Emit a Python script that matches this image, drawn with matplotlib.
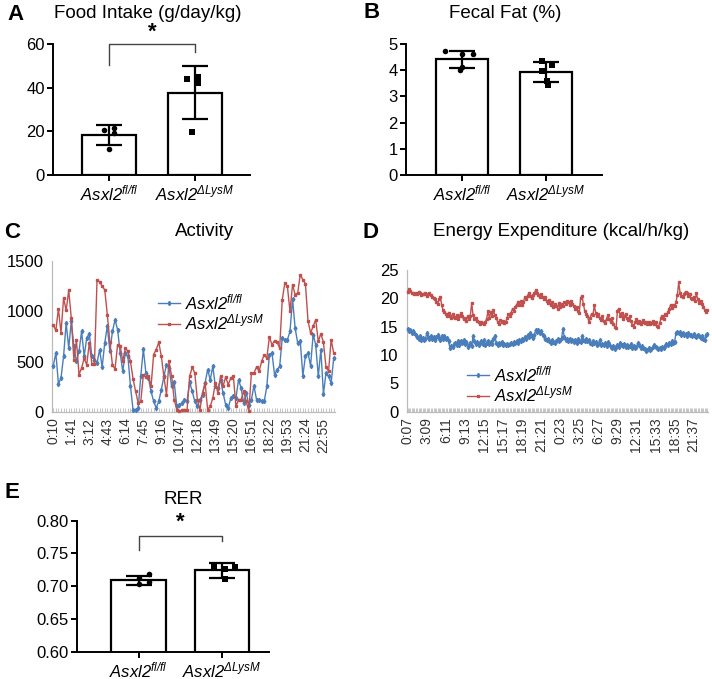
import matplotlib
matplotlib.use("Agg")
import matplotlib.pyplot as plt
import numpy as np

plt.rcParams['font.family'] = ['Liberation Sans', 'DejaVu Sans']
plt.rcParams['mathtext.fontset'] = 'custom'
plt.rcParams['mathtext.rm'] = 'Liberation Sans:italic'
plt.rcParams['mathtext.it'] = 'Liberation Sans:italic'
plt.rcParams['mathtext.bf'] = 'Liberation Sans:bold'

# ---------------- data ----------------
groups = [r'$Asxl2^{fl/fl}$', r'$Asxl2^{\Delta LysM}$']

food_mean = [18.3, 37.7]
food_sd = [4.4, 12.0]
food_fl = [20.7, 21.7, 19.1, 12.1]
food_lysm = [44.1, 44.7, 42.1, 19.9]

fat_mean = [4.41, 3.93]
fat_sd = [0.31, 0.39]
fat_fl = [4.74, 4.60, 4.63, 4.02, 4.12]
fat_lysm = [4.37, 4.20, 3.98, 3.60, 3.42]

rer_mean = [0.709, 0.724]
rer_sd = [0.0065, 0.011]
rer_fl = [0.712, 0.718, 0.704, 0.707]
rer_lysm = [0.731, 0.727, 0.729, 0.711]

activity_labels = ['0:10', '1:41', '3:12', '4:43', '6:14', '7:45', '9:16', '10:47',
                   '12:18', '13:49', '15:20', '16:51', '18:22', '19:53', '21:24', '22:55']
activity_fl = [460, 586, 281, 338, 553, 884, 636, 901, 652, 503,
               603, 801, 553, 735, 778, 553, 520, 487, 619, 447,
               685, 851, 603, 801, 917, 818, 586, 404, 586, 553,
               255, 23, 23, 40, 354, 626, 387, 338, 205, 106,
               40, 106, 222, 354, 470, 437, 255, 295, 56, 73,
               89, 123, 106, 295, 205, 106, 56, 123, 172, 288,
               420, 321, 454, 255, 238, 321, 189, 73, 40, 139,
               156, 139, 321, 238, 89, 189, 73, 123, 262, 123,
               123, 106, 106, 255, 570, 586, 371, 420, 454, 735,
               718, 718, 801, 1123, 834, 685, 702, 361, 553, 586,
               460, 768, 669, 354, 619, 179, 387, 354, 288, 536]
activity_lysm = [861, 811, 1026, 785, 1132, 1010, 1208, 934, 520, 712,
                 371, 437, 533, 470, 685, 480, 477, 1308, 1295, 1248,
                 1215, 967, 692, 467, 427, 669, 659, 503, 636, 603,
                 503, 331, 205, 89, 106, 364, 348, 361, 255, 570,
                 619, 692, 553, 348, 172, 503, 354, 123, 23, 7,
                 17, 23, 23, 354, 444, 387, 123, 23, 189, 288,
                 23, 56, 139, 288, 189, 354, 255, 348, 272, 338,
                 354, 56, 123, 123, 205, 106, 7, 387, 387, 447,
                 404, 503, 570, 536, 745, 669, 709, 692, 636, 1116,
                 1281, 1248, 1000, 1265, 1166, 1182, 1364, 1315, 1275, 907,
                 785, 851, 917, 702, 778, 692, 447, 404, 718, 586]

ee_labels = ['0:07', '3:09', '6:11', '9:13', '12:15', '15:17', '18:19', '21:21',
             '0:23', '3:25', '6:27', '9:29', '12:31', '15:33', '18:35', '21:37']
ee_fl = [14.6, 14.2, 14.4, 13.9, 14.3, 13.8, 13.5, 13.1, 12.9, 13.3, 12.7, 13.0, 12.6, 12.9,
         13.8, 13.2, 12.9, 13.4, 12.8, 13.1, 12.7, 13.2, 13.5, 13.0, 12.6, 13.3, 12.9, 13.4,
         12.8, 13.0, 12.4, 11.3, 11.6, 11.4, 11.9, 12.2, 11.7, 12.4, 11.8, 12.5, 12.1, 12.6,
         11.9, 12.3, 11.5, 11.8, 12.2, 11.6, 13.3, 12.5, 11.9, 12.3, 11.8, 12.1, 12.4, 12.0,
         12.6, 11.8, 12.2, 12.5, 11.9, 12.3, 12.0, 12.8, 13.4, 12.2, 11.7, 12.1, 11.9, 12.3,
         11.8, 11.9, 11.7, 12.0, 11.8, 11.9, 12.1, 12.0, 12.3, 12.1, 12.5, 12.2, 12.7, 12.4,
         12.8, 12.6, 13.1, 12.9, 13.5, 13.2, 13.8, 13.4, 13.0, 13.6, 14.4, 14.1, 14.5, 13.9,
         14.2, 13.6, 13.3, 12.9, 12.6, 12.9, 12.4, 12.2, 12.6, 12.3, 12.1, 12.5, 12.8, 12.4,
         12.6, 13.0, 14.6, 13.1, 12.7, 12.9, 12.5, 12.8, 12.4, 12.7, 12.3, 12.6, 12.2, 12.8,
         12.5, 12.3, 13.4, 12.7, 12.4, 12.9, 12.5, 12.6, 12.2, 12.0, 12.4, 12.1, 12.3, 11.8,
         12.0, 12.6, 11.7, 12.0, 11.8, 12.1, 11.6, 12.3, 11.9, 11.5, 11.2, 11.6, 11.0, 11.4,
         11.7, 11.5, 12.2, 11.8, 11.6, 11.9, 11.5, 11.8, 11.4, 11.6, 11.9, 11.3, 11.6, 11.2,
         11.5, 12.1, 11.7, 11.3, 11.6, 11.2, 11.0, 10.7, 10.9, 11.2, 10.8, 11.0, 11.4, 11.8,
         11.5, 11.2, 11.0, 11.3, 11.1, 11.4, 11.2, 11.6, 11.9, 11.7, 12.2, 12.0, 12.4, 12.1,
         12.3, 13.9, 14.1, 13.8, 14.0, 13.6, 13.9, 13.5, 13.7, 13.4, 13.8, 13.5, 13.6, 13.3,
         13.7, 13.4, 13.2, 13.6, 13.3, 13.0, 13.4, 12.9, 12.7, 13.5, 13.7]
ee_lysm = [21.2, 21.7, 21.3, 20.9, 21.0, 20.8, 21.0, 20.7, 21.1, 20.9, 20.6, 20.8, 20.7, 20.9,
           20.4, 20.8, 21.0, 20.6, 20.3, 20.0, 19.8, 19.4, 19.0, 19.8, 20.2, 18.8, 17.9, 17.6,
           17.3, 16.8, 17.5, 16.9, 16.6, 17.2, 16.7, 16.5, 17.0, 16.4, 16.8, 17.4, 16.9, 16.3,
           16.5, 16.0, 16.8, 16.3, 16.9, 19.2, 17.0, 16.4, 16.6, 16.0, 15.8, 15.5, 15.9, 15.7,
           15.4, 15.8, 16.4, 17.8, 16.5, 17.6, 16.8, 17.9, 17.0, 16.5, 15.9, 15.5, 16.2, 15.8,
           16.0, 15.6, 15.8, 16.6, 17.2, 16.9, 17.5, 18.2, 17.8, 18.5, 18.9, 19.3, 18.8, 19.5,
           18.9, 19.4, 20.2, 19.8, 20.5, 20.9, 20.4, 20.1, 20.6, 20.9, 21.4, 21.0, 20.6, 20.3,
           20.8, 20.2, 19.8, 20.3, 19.6, 19.2, 19.7, 18.8, 19.3, 18.5, 19.0, 18.7, 18.2, 19.1,
           18.4, 19.0, 18.7, 19.4, 19.0, 19.6, 19.3, 18.9, 19.5, 19.0, 18.6, 18.2, 18.5, 17.8,
           17.5, 20.1, 20.4, 19.0, 17.8, 17.2, 16.8, 15.9, 16.5, 17.3, 17.0, 18.8, 17.5, 16.9,
           17.2, 16.5, 16.2, 16.8, 16.0, 15.6, 16.4, 17.0, 16.3, 15.8, 16.5, 15.5, 15.0, 14.7,
           17.8, 18.2, 16.9, 17.5, 16.3, 16.8, 17.2, 16.5, 16.2, 16.8, 16.0, 15.3, 15.0, 15.8,
           16.3, 15.6, 16.0, 15.4, 15.8, 16.1, 15.6, 15.9, 15.5, 15.8, 15.4, 15.7, 16.0, 15.5,
           15.8, 15.2, 14.9, 15.6, 16.5, 16.8, 16.4, 17.2, 17.0, 17.6, 18.2, 18.8, 18.3, 18.9,
           18.6, 19.3, 20.6, 22.8, 21.0, 20.5, 20.2, 20.8, 21.2, 20.9, 20.4, 20.7, 20.0, 19.8,
           20.3, 19.5, 20.9, 19.8, 19.2, 19.6, 19.0, 18.4, 18.0, 17.6, 17.9]

# ---------------- layout helpers ----------------
W, H = 712, 679
fig = plt.figure(figsize=(W / 100, H / 100), dpi=100)


def rect(l, r, t, b):
    return [l / W, 1 - b / H, (r - l) / W, (b - t) / H]


def ftext(x, y, s, **kw):
    fig.text(x / W, 1 - y / H, s, ha='center', va='center', **kw)


BLUE = '#4a7ebb'
RED = '#c0504d'


def bar_panel(ax, means, sds, pts1, pts2, offs1, offs2, xlim, width, ylim, yticks, fmt):
    x = np.arange(2)
    ax.bar(x, means, width=width, color='white', edgecolor='black', linewidth=1.6, zorder=2)
    ax.errorbar(x, means, yerr=sds, fmt='none', ecolor='black', elinewidth=1.6,
                capsize=9.5, capthick=1.6, zorder=4)
    ax.scatter(np.array(offs1), pts1, marker='o', s=16, color='black', zorder=3, linewidths=0)
    ax.scatter(1 + np.array(offs2), pts2, marker='s', s=16, color='black', zorder=3, linewidths=0)
    ax.set_xlim(*xlim)
    ax.set_ylim(*ylim)
    ax.set_yticks(yticks)
    ax.set_yticklabels([fmt.format(v) for v in yticks])
    ax.set_xticks(x)
    ax.set_xticklabels(groups, fontsize=12)
    for s in ['top', 'right']:
        ax.spines[s].set_visible(False)
    for s in ['left', 'bottom']:
        ax.spines[s].set_linewidth(1.4)
    ax.tick_params(axis='both', width=1.4, length=4, labelsize=12, pad=2)


# ---- A ----
axA = fig.add_axes(rect(53, 250, 44, 175))
bar_panel(axA, food_mean, food_sd, food_fl, food_lysm,
          [-0.055, 0.06, 0.06, 0.0], [-0.09, 0.03, 0.03, -0.03],
          (-0.65, 1.64), 0.63, (0, 60), [0, 20, 40, 60], '{:d}')
axA.plot([0, 0, 1, 1], [50.5, 60, 60, 56.4], color='#444444', lw=1, clip_on=False)
axA.text(0.5, 65.5, '*', ha='center', va='center', fontsize=16, fontweight='bold', clip_on=False)
ftext(16, 14, 'A', fontsize=16, fontweight='bold')
ftext(148, 14, 'Food Intake (g/day/kg)', fontsize=13.5)

# ---- B ----
axB = fig.add_axes(rect(406, 602, 44, 175))
bar_panel(axB, fat_mean, fat_sd, fat_fl, fat_lysm,
          [-0.2, 0.0, 0.13, -0.02, 0.0], [-0.05, 0.07, -0.05, 0.01, 0.02],
          (-0.667, 1.667), 0.63, (0, 5), [0, 1, 2, 3, 4, 5], '{:d}')
ftext(372, 13, 'B', fontsize=16, fontweight='bold')
ftext(505, 14, 'Fecal Fat (%)', fontsize=13.5)


# ---- line panels ----
def line_panel(ax, y1, y2, labels, step, ylim, yticks):
    n = len(y1)
    x = np.arange(n)
    ax.plot(x, y1, color=BLUE, lw=1.0, marker='d', ms=2.2, mec=BLUE, mfc=BLUE,
            label=groups[0], clip_on=False, zorder=3)
    ax.plot(x, y2, color=RED, lw=1.0, marker='s', ms=2.1, mec=RED, mfc=RED,
            label=groups[1], clip_on=False, zorder=3)
    ax.set_xlim(-0.5, n - 0.5)
    ax.set_ylim(*ylim)
    ax.set_yticks(yticks)
    ax.set_xticks(np.arange(0, len(labels) * step, step))
    ax.set_xticklabels(labels, rotation=90, fontsize=10, color='#333333')
    ax.set_xticks(x, minor=True)
    ax.tick_params(axis='x', which='major', direction='in', length=3, width=0.6,
                   color='#bbbbbb', pad=4)
    ax.tick_params(axis='x', which='minor', direction='in', length=3, width=0.6,
                   color='#bbbbbb')
    ax.tick_params(axis='y', length=0, labelsize=12, pad=6)
    for s in ['top', 'right']:
        ax.spines[s].set_visible(False)
    for s in ['left', 'bottom']:
        ax.spines[s].set_color('#bbbbbb')
        ax.spines[s].set_linewidth(0.9)


axC = fig.add_axes(rect(52, 335, 261, 412))
line_panel(axC, activity_fl, activity_lysm, activity_labels, 7, (0, 1500), [0, 500, 1000, 1500])
axC.legend(loc='upper left', bbox_to_anchor=(158 / W, 1 - 292 / H), bbox_transform=fig.transFigure,
           frameon=False, fontsize=12, handlelength=1.3, handletextpad=0.3, labelspacing=0.05,
           borderpad=0, borderaxespad=0)
ftext(12, 232, 'C', fontsize=16, fontweight='bold')
ftext(205, 232, 'Activity', fontsize=13.5)

axD = fig.add_axes(rect(407, 708, 270, 411.7))
line_panel(axD, ee_fl, ee_lysm, ee_labels, 14, (0, 25), [0, 5, 10, 15, 20, 25])
axD.legend(loc='upper left', bbox_to_anchor=(467 / W, 1 - 364 / H), bbox_transform=fig.transFigure,
           frameon=False, fontsize=12, handlelength=1.3, handletextpad=0.3, labelspacing=0.05,
           borderpad=0, borderaxespad=0)
ftext(370, 232, 'D', fontsize=16, fontweight='bold')
ftext(561, 232, 'Energy Expenditure (kcal/h/kg)', fontsize=13.5)

# ---- E ----
axE = fig.add_axes(rect(77, 269, 520.7, 651.7))
bar_panel(axE, rer_mean, rer_sd, rer_fl, rer_lysm,
          [-0.0, 0.12, 0.0, 0.12], [-0.09, 0.03, 0.15, 0.03],
          (-0.737, 1.563), 0.65, (0.6, 0.8), [0.60, 0.65, 0.70, 0.75, 0.80], '{:.2f}')
axE.plot([0, 0, 1, 1], [0.756, 0.7766, 0.7766, 0.769], color='#444444', lw=1, clip_on=False)
axE.text(0.5, 0.7975, '*', ha='center', va='center', fontsize=16, fontweight='bold', clip_on=False)
ftext(12, 493, 'E', fontsize=16, fontweight='bold')
ftext(183, 500, 'RER', fontsize=13.5)

fig.savefig('out.png', dpi=100)
